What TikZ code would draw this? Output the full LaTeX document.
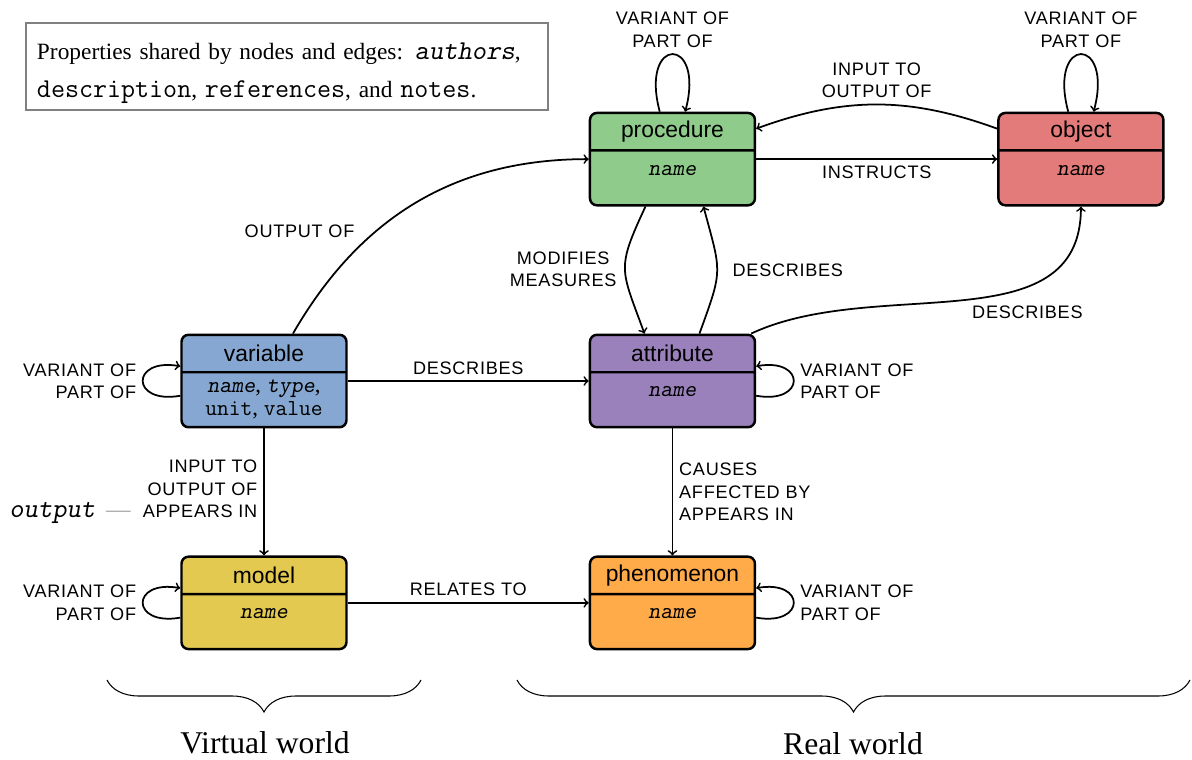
\documentclass[tikz,border=0pt]{standalone}
\usepackage{fontspec}
\setmainfont{Liberation Serif}
\setsansfont{Liberation Sans}
\newfontfamily\lblfamily[LetterSpace=4]{Liberation Sans}
\usetikzlibrary{positioning,shapes.multipart,decorations.pathreplacing}

\definecolor{procfill}{RGB}{143,204,139}
\definecolor{objfill}{RGB}{227,123,122}
\definecolor{varfill}{RGB}{134,167,209}
\definecolor{attrfill}{RGB}{154,129,187}
\definecolor{modelfill}{RGB}{227,201,80}
\definecolor{phenfill}{RGB}{255,171,74}

\newcommand{\prop}[1]{\texttt{\slshape #1}}
\newcommand{\notett}[1]{{\fontsize{15.5}{22}\selectfont\ttfamily #1}}
\newcommand{\enthead}[1]{\parbox[c][0.70cm][c]{3.3cm}{\centering\sffamily\fontsize{13}{15}\selectfont #1}}
\newcommand{\entbody}[2][0.47cm]{\parbox[c][1.05cm][t]{3.3cm}{\centering\fontsize{13}{13}\selectfont\rule{0pt}{#1}#2}}

\begin{document}
\begin{tikzpicture}[node distance=2.54cm and 4.82cm,
  entity/.style={rectangle split, rectangle split parts=2, draw, line width=1.4pt, rounded corners=4pt, inner sep=0pt},
  link/.style={->, line width=1pt},
  lbl/.style={font=\lblfamily\fontsize{10.3}{12.7}\selectfont, align=center},
  brace/.style={decorate, decoration={brace, mirror, amplitude=0.64cm}, line width=0.6pt},
  world/.style={font=\fontsize{18}{20}\selectfont, anchor=base}]
  \useasboundingbox (-5.28,7.62) rectangle (18.56,-7.56);

  \node[draw=gray, line width=1pt, text width=10cm, inner xsep=0.22cm, minimum height=1.66cm, align=left, font=\fontsize{13.3}{22}\selectfont] (shared) at (0.46,6.29)
    {\rule{0pt}{17pt}Properties shared by nodes and edges: \notett{\slshape authors},\\ \notett{description}, \notett{references}, and \notett{notes}.};

  % entities
  \node[entity, fill=varfill] (variable) at (0,0)
    {\enthead{variable}\nodepart{two}\entbody[0.38cm]{\prop{name}, \prop{type},\\ \texttt{unit}, \texttt{value}}};
  \node[entity, fill=attrfill] (attribute) [right=of variable]
    {\enthead{attribute}\nodepart{two}\entbody{\prop{name}}};
  \node[entity, fill=procfill] (procedure) [above=of attribute]
    {\enthead{procedure}\nodepart{two}\entbody{\prop{name}}};
  \node[entity, fill=objfill] (object) [right=of procedure]
    {\enthead{object}\nodepart{two}\entbody{\prop{name}}};
  \node[entity, fill=modelfill] (model) [below=of variable]
    {\enthead{model}\nodepart{two}\entbody{\prop{name}}};
  \node[entity, fill=phenfill] (phenomenon) [below=of attribute]
    {\enthead{phenomenon}\nodepart{two}\entbody{\prop{name}}};

  % self loops
  \draw[link] (procedure) to[loop above] node[lbl, above] {VARIANT OF\\PART OF} ();
  \draw[link] (object) to[loop above] node[lbl, above] {VARIANT OF\\PART OF} ();
  \draw[link] (variable) to[out=190, in=170, looseness=4.4] node[lbl, left, align=right] {VARIANT OF\\PART OF} (variable);
  \draw[link] (model) to[out=190, in=170, looseness=4.4] node[lbl, left, align=right] {VARIANT OF\\PART OF} (model);
  \draw[link] (attribute) to[out=-10, in=10, looseness=4.4] node[lbl, right, align=left] {VARIANT OF\\PART OF} (attribute);
  \draw[link] (phenomenon) to[out=-10, in=10, looseness=4.4] node[lbl, right, align=left] {VARIANT OF\\PART OF} (phenomenon);

  % relations
  \draw[link] (object) to[out=160, in=20] node[lbl, above] {INPUT TO\\OUTPUT OF} (procedure);
  \draw[link] (procedure) -- node[lbl, below] {INSTRUCTS} (object);
  \draw[link] ([xshift=0.58cm]variable.north) to[out=60, in=180] node[lbl, pos=0.3, above left] {OUTPUT OF} (procedure.west);
  \draw[link] ([xshift=-0.54cm]procedure.south) to[out=245, in=110, looseness=1.4] node[lbl, left=1pt] {MODIFIES\\MEASURES} ([xshift=-0.56cm]attribute.north);
  \draw[link] ([xshift=0.54cm]attribute.north) to[out=70, in=-75, looseness=1.4] node[lbl, right=5pt] {DESCRIBES} ([xshift=0.62cm]procedure.south);
  \draw[link] ([xshift=-0.1cm]attribute.north east) to[out=25, in=-90] node[lbl, pos=0.68, below=7pt] {DESCRIBES} (object.south);
  \draw[link] (variable) -- node[lbl, above] {DESCRIBES} (attribute);
  \draw[link] (variable) -- node[lbl, left, align=right]
    {INPUT TO\\OUTPUT OF\\\llap{\notett{\slshape output}\hspace{0.22cm}\textcolor{gray!70}{\fontsize{14}{12.7}\rmfamily\textemdash}\hspace{0.24cm}}APPEARS IN} (model);
  \draw[link] (model) -- node[lbl, above] {RELATES TO} (phenomenon);
  \draw[link] (attribute) -- node[lbl, right, align=left] {CAUSES\\AFFECTED BY\\APPEARS IN} (phenomenon);

  % worlds
  \draw[brace] (-3.14,-5.98) -- (3.14,-5.98);
  \draw[brace] (5.06,-5.98) -- (18.52,-5.98);
  \node[world] (virtual) at (0.02,-7.44) {Virtual world};
  \node[world] (real) at (11.78,-7.46) {Real world};
\end{tikzpicture}
\end{document}
